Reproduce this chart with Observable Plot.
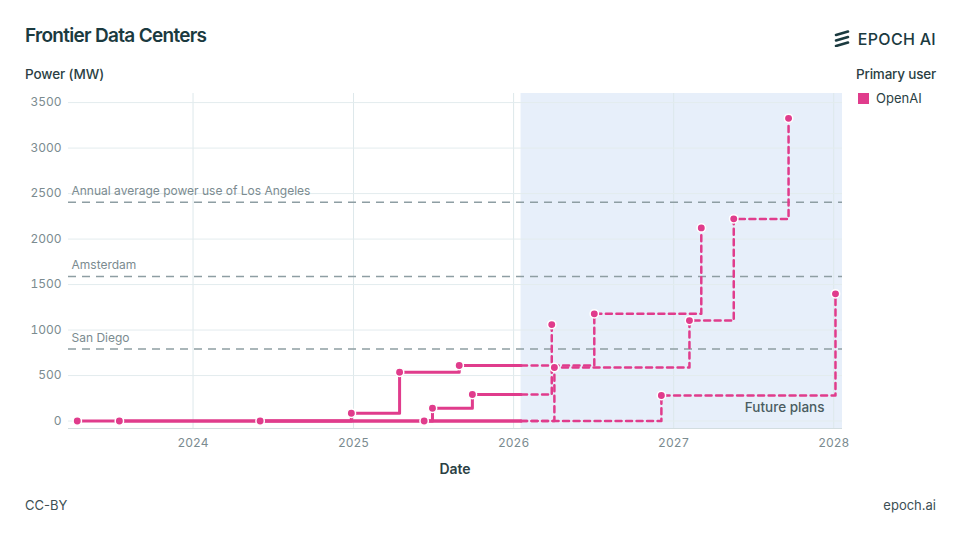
<!DOCTYPE html>
<html>
<head>
<meta charset="utf-8">
<script src="https://cdn.jsdelivr.net/npm/d3@7"></script>
<script src="https://cdn.jsdelivr.net/npm/@observablehq/plot@0.6"></script>
<style>
  body { margin: 0; background: #fff; font-family: Inter, "Noto Sans", sans-serif; }
  #wrap { position: relative; width: 960px; height: 540px; overflow: hidden; background: #fff; }
  .abs { position: absolute; white-space: nowrap; line-height: 1; }
  #title { left: 25px; top: 26px; font-size: 19px; font-weight: 600; color: #1b3a3f; letter-spacing: -0.7px; }
  #logo { right: 24px; top: 30px; display: flex; align-items: center; gap: 8px; color: #1b3a3f; font-size: 16px; font-weight: 500; letter-spacing: 0.3px; }
  #ylab { left: 25px; top: 68px; font-size: 13.5px; font-weight: 500; color: #2b3f44; letter-spacing: -0.1px; }
  #legTitle { left: 856px; top: 68px; font-size: 13.5px; font-weight: 500; color: #2b3f44; letter-spacing: -0.2px; }
  #legItem { left: 858px; top: 92px; font-size: 13px; color: #2b3f44; display: flex; align-items: center; gap: 7px; }
  #legItem .sw { width: 11px; height: 11px; background: #e03c8c; display: inline-block; }
  #chart { position: absolute; left: 0; top: 85px; }
  #xlab { left: 0; width: 910px; text-align: center; top: 462px; font-size: 14px; font-weight: 600; color: #2b3f44; }
  #cc { left: 25px; top: 499px; font-size: 13px; color: #3d4f54; }
  #site { right: 24px; top: 499px; font-size: 13px; color: #3d4f54; }
</style>
</head>
<body>
<div id="wrap">
  <div class="abs" id="title">Frontier Data Centers</div>
  <div class="abs" id="logo">
    <svg width="16" height="17" viewBox="0 0 16 17">
      <g stroke="#1b3a3f" stroke-width="2.6" stroke-linecap="round" fill="none">
        <line x1="2" y1="5" x2="14" y2="1.5"/>
        <line x1="2" y1="10.5" x2="14" y2="7"/>
        <line x1="2" y1="16" x2="14" y2="12.5"/>
      </g>
    </svg>
    <span>EPOCH AI</span>
  </div>
  <div class="abs" id="ylab">Power (MW)</div>
  <div class="abs" id="legTitle">Primary user</div>
  <div class="abs" id="legItem"><span class="sw"></span><span>OpenAI</span></div>
  <div id="chart"></div>
  <div class="abs" id="xlab">Date</div>
  <div class="abs" id="cc">CC-BY</div>
  <div class="abs" id="site">epoch.ai</div>
</div>
<script>
// ---- Data ----
const primaryUser = ["OpenAI"];
const siteIds = ["dc1", "dc2", "dc3", "dc4"];

const dc1Dates = ["2023-04-12", "2026-04-04", "2027-02-06", "2027-05-18", "2027-09-20"];
const dc1Power = [0, 588, 1104, 2222, 3327];

const dc2Dates = ["2023-07-17", "2026-12-04", "2028-01-05"];
const dc2Power = [0, 280, 1398];

const dc3Dates = ["2024-06-02", "2024-12-27", "2025-04-16", "2025-08-30", "2026-07-04", "2027-03-05"];
const dc3Power = [0, 86, 536, 610, 1178, 2123];

const dc4Dates = ["2025-06-11", "2025-06-30", "2025-09-29", "2026-03-29"];
const dc4Power = [0, 141, 291, 1060];

const refLabels = ["Annual average power use of Los Angeles", "Amsterdam", "San Diego"];
const refPower = [2404, 1588, 793];

const yTicks = [0, 500, 1000, 1500, 2000, 2500, 3000, 3500];
const xTickLabels = ["2024", "2025", "2026", "2027", "2028"];
const todayDate = "2026-01-18";
const xDomainDates = ["2023-03-23", "2028-01-21"];
const yDomain = [-82, 3600];
const futureLabel = "Future plans";

// ---- Build tables ----
const pink = "#e03c8c";
const parse = d3.utcParse("%Y-%m-%d");
const today = parse(todayDate);
const seriesDates = [dc1Dates, dc2Dates, dc3Dates, dc4Dates];
const seriesPower = [dc1Power, dc2Power, dc3Power, dc4Power];

const points = [];
const solid = [];
const dashed = [];
siteIds.forEach((id, i) => {
  const rows = seriesDates[i].map((d, j) => ({site: id, date: parse(d), power: seriesPower[i][j]}));
  rows.forEach(r => points.push(r));
  const past = rows.filter(r => r.date <= today);
  const fut = rows.filter(r => r.date > today);
  if (past.length) {
    const last = past[past.length - 1];
    past.forEach(r => solid.push(r));
    solid.push({site: id, date: today, power: last.power});
    dashed.push({site: id, date: today, power: last.power});
  }
  fut.forEach(r => dashed.push(r));
});

const refs = refLabels.map((l, i) => ({label: l, power: refPower[i]}));
const xTicks = xTickLabels.map(y => parse(y + "-01-01"));
const xDomain = xDomainDates.map(parse);

const chart = Plot.plot({
  width: 960,
  height: 400,
  marginTop: 8,
  marginBottom: 57,
  marginLeft: 68,
  marginRight: 118,
  style: {fontFamily: "Inter, 'Noto Sans', sans-serif", fontSize: "12px", color: "#7b8b90", background: "transparent", overflow: "visible"},
  x: {type: "utc", domain: xDomain, label: null},
  y: {domain: yDomain, label: null},
  marks: [
    Plot.rect([futureLabel], {x1: () => today, x2: () => xDomain[1], y1: () => yDomain[0], y2: () => yDomain[1], fill: "#e7effa"}),
    Plot.gridX(xTicks, {stroke: "#dde8eb", strokeOpacity: 1}),
    Plot.gridY(yTicks, {stroke: "#e3ecee", strokeOpacity: 1}),
    Plot.ruleY([yDomain[0]], {stroke: "#d3dde0"}),
    Plot.ruleY(refs, {y: "power", stroke: "#8e9ea3", strokeWidth: 1.5, strokeDasharray: "8,6"}),
    Plot.text(refs, {y: "power", text: "label", frameAnchor: "left", textAnchor: "start", dx: 3, dy: -11, fill: "#7b8b90", fontSize: 12}),
    Plot.text([futureLabel], {text: d => d, frameAnchor: "bottom-right", textAnchor: "end", dx: -18, dy: -17, fill: "#4a5c61", fontSize: 13.5, fontWeight: 500}),
    Plot.line(solid, {x: "date", y: "power", z: "site", curve: "step-after", stroke: pink, strokeWidth: 3}),
    Plot.line(dashed, {x: "date", y: "power", z: "site", curve: "step-after", stroke: pink, strokeWidth: 2.5, strokeDasharray: "6,4.5"}),
    Plot.dot(points, {x: "date", y: "power", r: 4.2, fill: pink, stroke: "white", strokeWidth: 1.5}),
    Plot.axisX(xTicks, {tickFormat: d3.utcFormat("%Y"), tickSize: 0, tickPadding: 10, fill: "#7b8b90", label: null}),
    Plot.axisY(yTicks, {tickFormat: d => String(d), tickSize: 0, tickPadding: 7, fill: "#7b8b90", label: null})
  ]
});
document.getElementById("chart").appendChild(chart);
</script>
</body>
</html>
